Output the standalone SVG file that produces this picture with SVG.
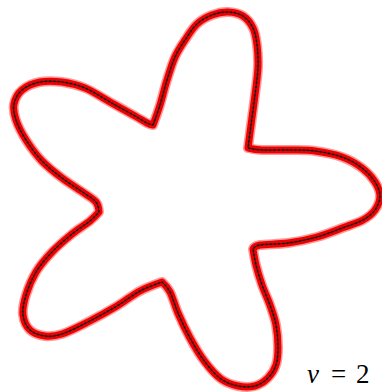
<svg xmlns="http://www.w3.org/2000/svg" width="382" height="392" viewBox="0 0 382 392">
<style>
.halo{fill:none;stroke:#ff0000;stroke-opacity:0.4;stroke-width:10;stroke-linejoin:round}
.band{fill:none;stroke:#f00000;stroke-width:7;stroke-linejoin:round}
.sq{fill:none;stroke:#333;stroke-width:2.2;stroke-dasharray:2.2 2;stroke-linejoin:round}
.core{fill:none;stroke:#000;stroke-width:0.6}
.lbl{font-family:"Liberation Serif","DejaVu Serif",serif;font-size:27px;fill:#000}
</style>
<defs>
<path id="c" d="M153,125 C153,125 157.7,112.5 160,105 C162.3,97.5 164.5,88 167,80 C169.5,72 172,63.7 175,57 C178,50.3 181.3,45.5 185,40 C188.7,34.5 192.5,28.2 197,24 C201.5,19.8 206.8,17 212,15 C217.2,13 222.8,11.8 228,12 C233.2,12.2 238.8,13.3 243,16 C247.2,18.7 250.7,23.2 253,28 C255.3,32.8 256.2,38.5 257,45 C257.8,51.5 258.3,58.7 258,67 C257.7,75.3 256.2,85.3 255,95 C253.8,104.7 252.2,116.2 251,125 C249.8,133.8 248,148 248,148
C248,148 255,149.7 262,150 C269,150.3 281.2,149.8 290,150 C298.8,150.2 306.3,149.8 315,151 C323.7,152.2 334.2,154.2 342,157 C349.8,159.8 356.5,163.8 362,168 C367.5,172.2 372,177.3 375,182 C378,186.7 380,191.3 380,196 C380,200.7 377.8,206 375,210 C372.2,214 368,217.2 363,220 C358,222.8 352.7,224.2 345,227 C337.3,229.8 326.5,234.3 317,237 C307.5,239.7 297.5,241.7 288,243 C278.5,244.3 265.8,244 260,245 C254.2,246 253,249 253,249
C253,249 254.5,259 256,265 C257.5,271 259.7,278.3 262,285 C264.3,291.7 267.7,298.3 270,305 C272.3,311.7 274.7,318 276,325 C277.3,332 278,340.3 278,347 C278,353.7 277.7,359.8 276,365 C274.3,370.2 271.5,374.5 268,378 C264.5,381.5 260,384.7 255,386 C250,387.3 243.7,387.2 238,386 C232.3,384.8 226.5,383 221,379 C215.5,375 210.2,368.8 205,362 C199.8,355.2 194.5,346.2 190,338 C185.5,329.8 181.3,320.7 178,313 C174.7,305.3 172.7,297.2 170,292 C167.3,286.8 162,282 162,282
C162,282 147.5,287 140,291 C132.5,295 125.7,300.8 117,306 C108.3,311.2 97.2,317.3 88,322 C78.8,326.7 69.2,331.7 62,334 C54.8,336.3 50.3,336.7 45,336 C39.7,335.3 33.7,333.5 30,330 C26.3,326.5 23.7,320.8 23,315 C22.3,309.2 23.8,302.2 26,295 C28.2,287.8 31.7,279.2 36,272 C40.3,264.8 46,258.3 52,252 C58,245.7 65.7,239.2 72,234 C78.3,228.8 85.5,224.7 90,221 C94.5,217.3 99,212 99,212
C99,212 98.5,205.2 96,202 C93.5,198.8 89.7,197 84,193 C78.3,189 69,183.3 62,178 C55,172.7 48,167.3 42,161 C36,154.7 30.3,146.8 26,140 C21.7,133.2 18,126 16,120 C14,114 13,109 14,104 C15,99 17.7,93.7 22,90 C26.3,86.3 33.3,83.3 40,82 C46.7,80.7 54.5,81 62,82 C69.5,83 77,84.7 85,88 C93,91.3 101.7,97.3 110,102 C118.3,106.7 128.8,112.5 135,116 C141.2,119.5 144,121.5 147,123 C150,124.5 153,125 153,125 Z"/>
</defs>
<g id="curve">
<use href="#c" class="halo"/>
<use href="#c" class="band"/>
<use href="#c" class="sq"/>
<use href="#c" class="core"/>
</g>
<g id="label">
<text class="lbl" y="383"><tspan x="307" font-style="italic">ν</tspan><tspan x="331">=</tspan><tspan x="356">2</tspan></text>
</g>
</svg>
